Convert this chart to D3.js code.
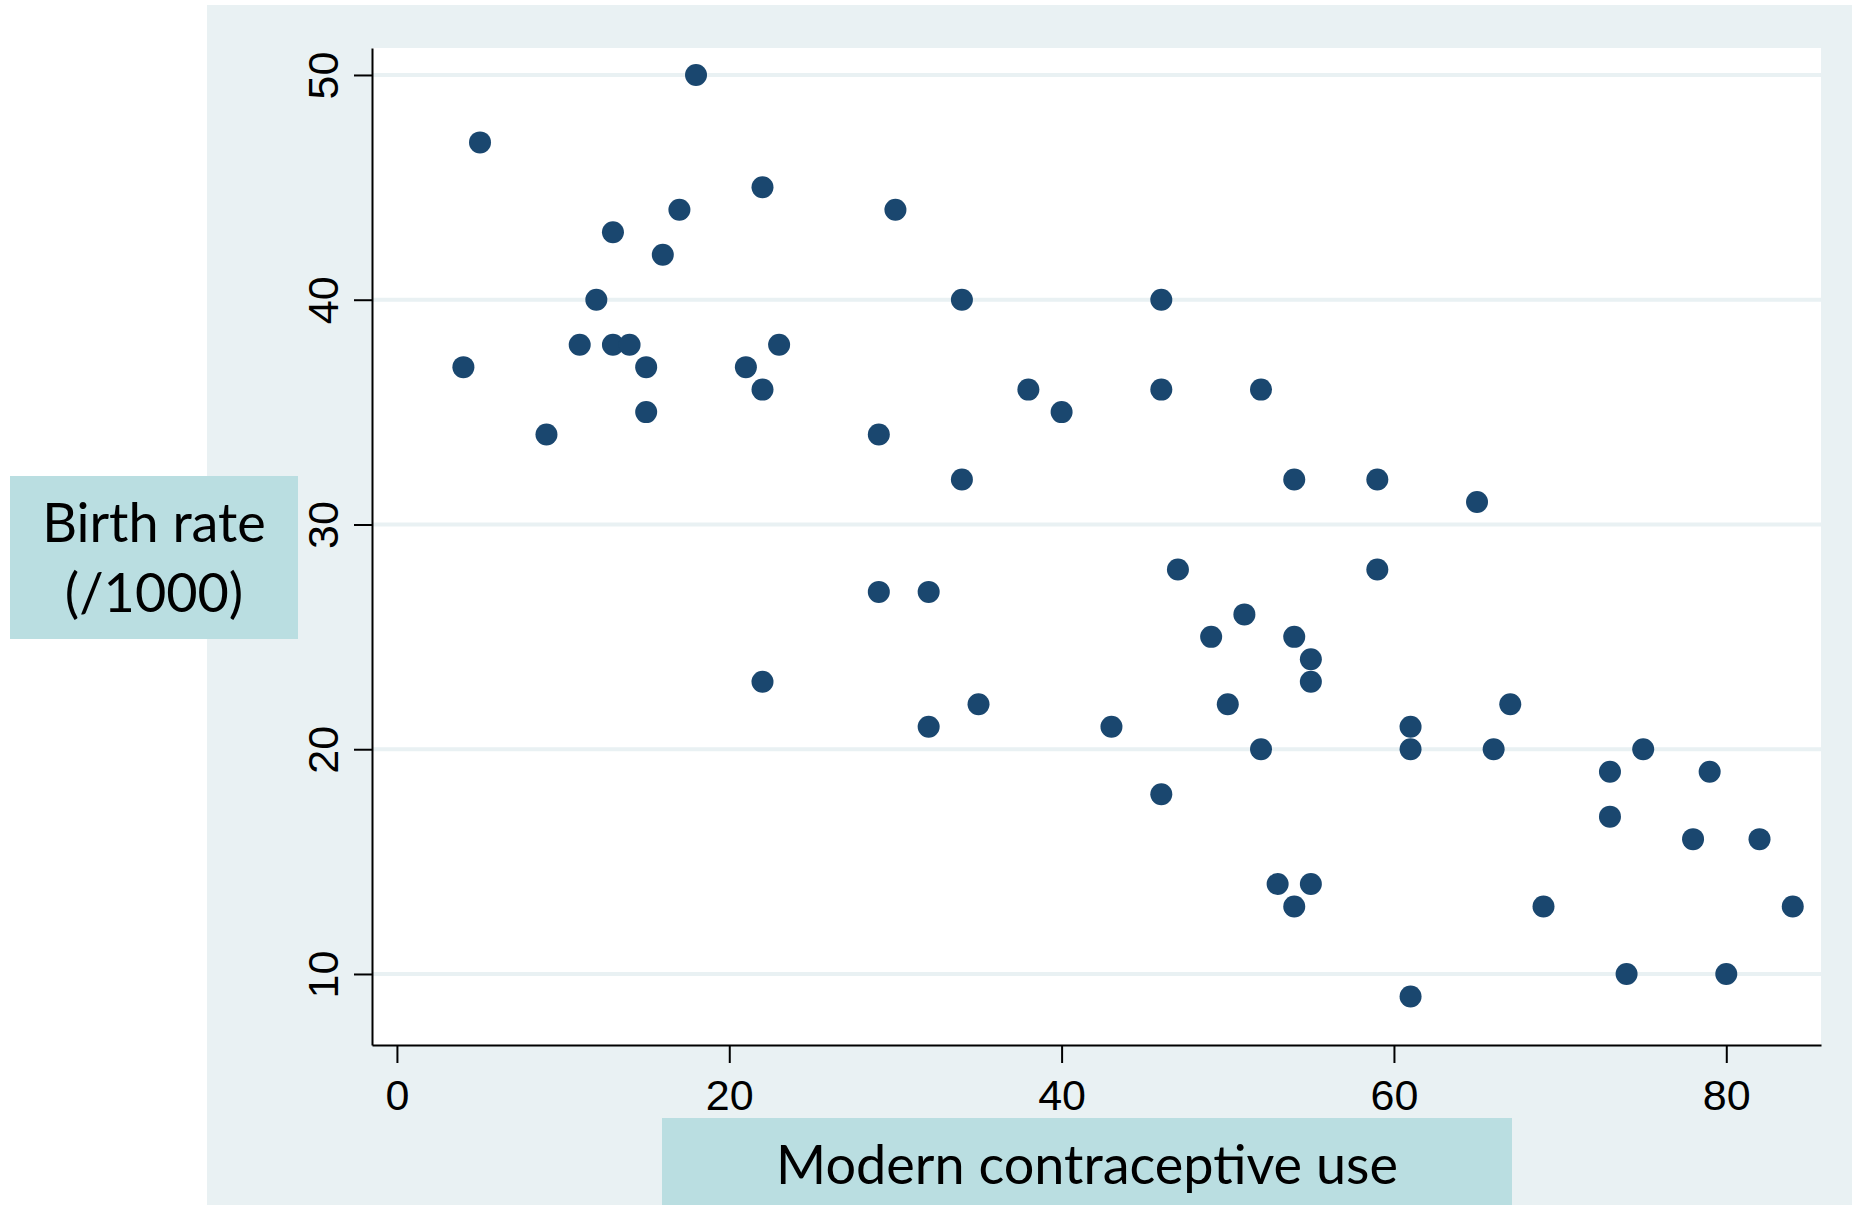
<!DOCTYPE html>
<html>
<head>
<meta charset="utf-8">
<script src="https://cdn.jsdelivr.net/npm/d3@7"></script>
<style>
    body { margin: 0; background: #fff; }
    svg { display: block; }
    .tick text { font-family: "Liberation Sans", Arial, sans-serif; font-size: 43px; fill: #000; }
    .title { font-family: Lato, "Open Sans", sans-serif; font-size: 54px; fill: #000; }
</style>
</head>
<body>
<svg width="1852" height="1205"></svg>
<script>
// Modern contraceptive use (%) vs birth rate (per 1000), one entry per country
const contraceptiveUse = [4, 5, 9, 11, 12, 13, 13, 14, 15, 15, 16, 17, 18, 21, 22, 22, 22, 23,
                          29, 29, 30, 32, 32, 34, 34, 35, 38, 40, 43, 46, 46, 46, 47, 49, 50, 51,
                          52, 52, 53, 54, 54, 54, 55, 55, 55, 59, 59, 61, 61, 61, 65, 66, 67, 69,
                          73, 73, 74, 75, 78, 79, 80, 82, 84];
const birthRate = [37, 47, 34, 38, 40, 43, 38, 38, 37, 35, 42, 44, 50, 37, 45, 36, 23, 38,
                   34, 27, 44, 27, 21, 40, 32, 22, 36, 35, 21, 40, 36, 18, 28, 25, 22, 26,
                   36, 20, 14, 32, 25, 13, 24, 23, 14, 32, 28, 21, 20, 9, 31, 20, 22, 13,
                   19, 17, 10, 20, 16, 19, 10, 16, 13];
const xTicks = [0, 20, 40, 60, 80];
const yTicks = [10, 20, 30, 40, 50];
const xTitle = "Modern contraceptive use";
const yTitleLines = ["Birth rate", "(/1000)"];

const svg = d3.select("svg");
const bg = "#e9f1f3";
const box = "#badee1";
const dotColor = "#1a476f";

const plot = { left: 372, right: 1821, top: 48, bottom: 1045 };

/* BACKGROUND
 */
svg.append("rect")
    .attr("x", 207).attr("y", 5)
    .attr("width", 1852 - 207).attr("height", 1205 - 5)
    .attr("fill", bg);

svg.append("rect")
    .attr("x", plot.left).attr("y", plot.top)
    .attr("width", plot.right - plot.left).attr("height", plot.bottom - plot.top)
    .attr("fill", "#fff");

/* SCALES
 */
const x = d3.scaleLinear().domain([-1.5, 85.7]).range([plot.left, plot.right]);
const y = d3.scaleLinear().domain([6.84, 51.2]).range([plot.bottom, plot.top]);

// grid lines
svg.append("g")
    .selectAll("line")
    .data(yTicks)
    .enter().append("line")
    .attr("x1", plot.left).attr("x2", plot.right)
    .attr("y1", (d) => y(d)).attr("y2", (d) => y(d))
    .attr("stroke", bg)
    .attr("stroke-width", 4);

/* AXES
 */
const yAxis = svg.append("g")
      .attr("transform", `translate(${plot.left},0)`)
      .call(d3.axisLeft(y).tickValues(yTicks).tickSize(18).tickSizeOuter(0)
            .tickFormat(d3.format("d")));
yAxis.selectAll(".tick text")
    .attr("x", null).attr("dy", null)
    .attr("text-anchor", "middle")
    .attr("transform", "translate(-34,0) rotate(-90)");

const xAxis = svg.append("g")
      .attr("transform", `translate(0,${plot.bottom})`)
      .call(d3.axisBottom(x).tickValues(xTicks).tickSize(18).tickSizeOuter(0)
            .tickFormat(d3.format("d")));
xAxis.selectAll(".tick text")
    .attr("y", 65).attr("dy", null);

svg.selectAll(".domain, .tick line")
    .attr("stroke", "#000")
    .attr("stroke-width", 2);

/* POINTS
 */
svg.append("g")
    .selectAll("circle")
    .data(contraceptiveUse)
    .enter().append("circle")
    .attr("cx", (d) => x(d))
    .attr("cy", (d, i) => y(birthRate[i]))
    .attr("r", 11)
    .attr("fill", dotColor);

/* TITLE BOXES
 */
svg.append("rect")
    .attr("x", 10).attr("y", 476)
    .attr("width", 288).attr("height", 163)
    .attr("fill", box);
svg.append("g")
    .selectAll("text")
    .data(yTitleLines)
    .enter().append("text")
    .attr("class", "title")
    .attr("x", 154)
    .attr("y", (d, i) => 542 + i * 70)
    .attr("text-anchor", "middle")
    .text((d) => d);

svg.append("rect")
    .attr("x", 662).attr("y", 1118)
    .attr("width", 850).attr("height", 1205 - 1118)
    .attr("fill", box);
svg.append("text")
    .attr("class", "title")
    .attr("x", 1087).attr("y", 1184)
    .attr("text-anchor", "middle")
    .text(xTitle);
</script>
</body>
</html>
